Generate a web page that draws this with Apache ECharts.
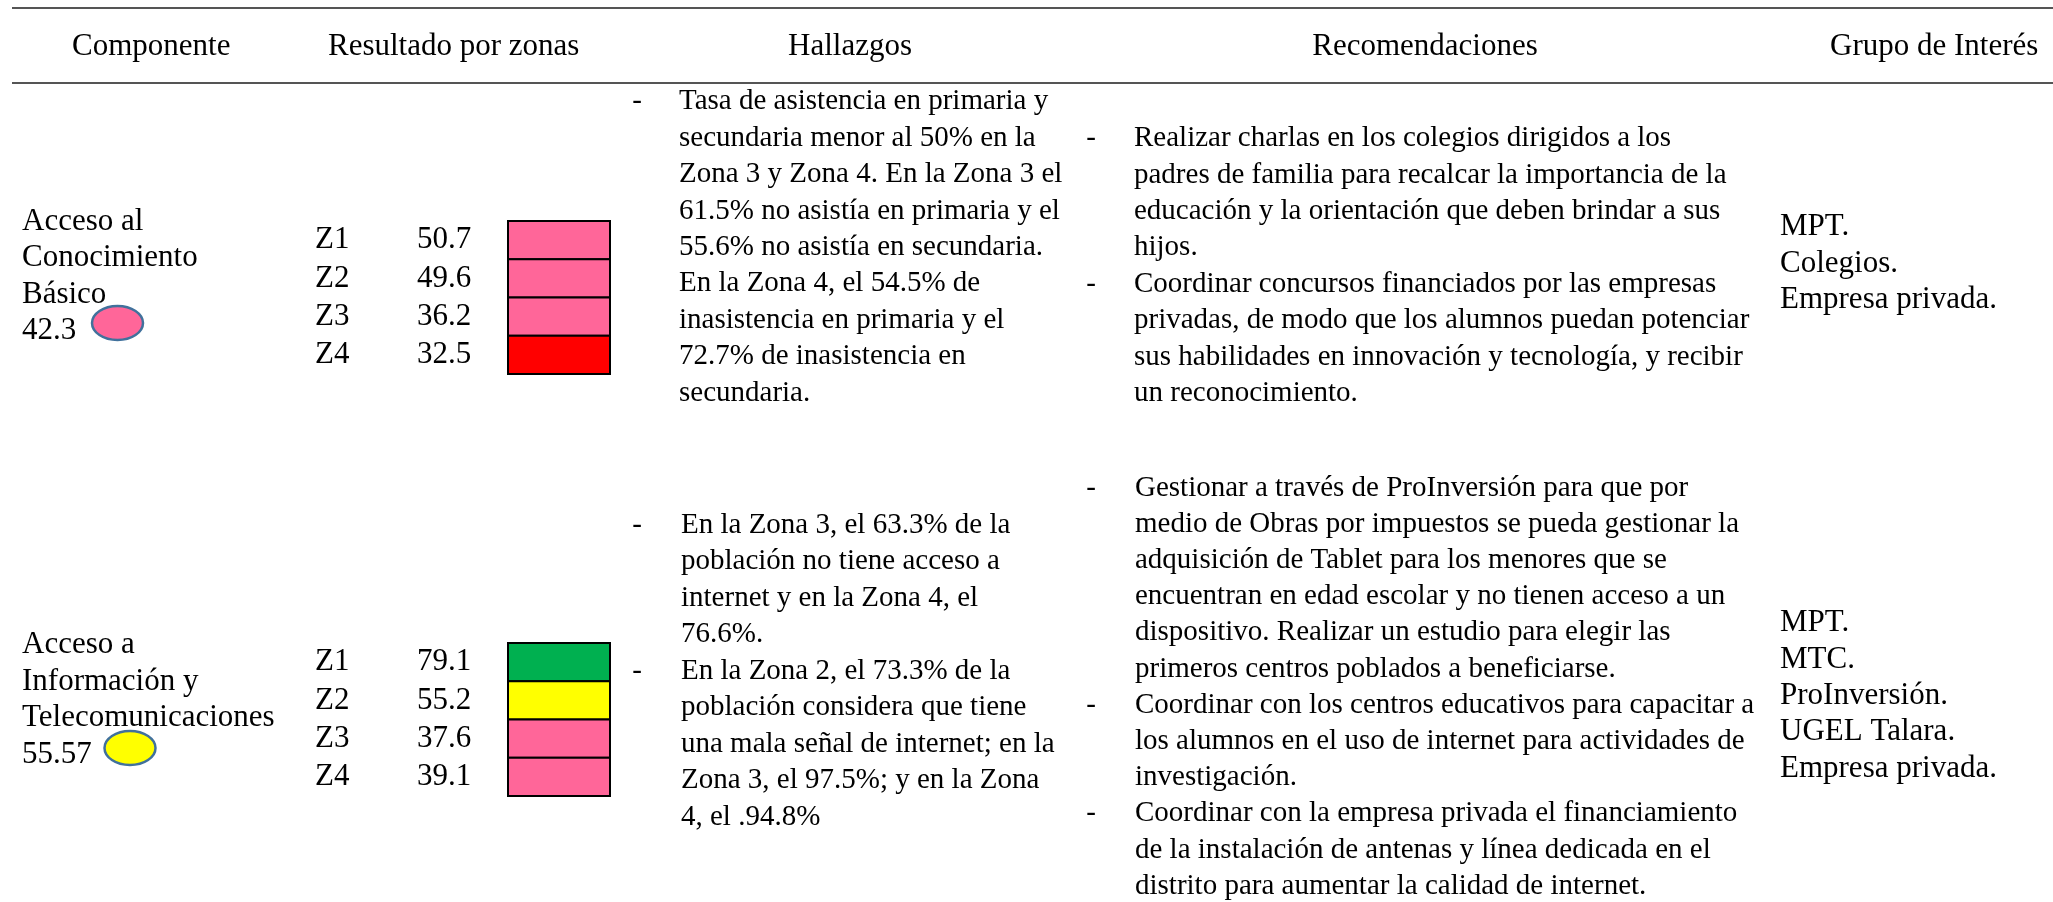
<!DOCTYPE html>
<html>
<head>
<meta charset="utf-8">
<script src="https://cdn.jsdelivr.net/npm/echarts@6/dist/echarts.min.js"></script>
<style>
  html, body { margin: 0; padding: 0; background: #ffffff; }
  #chart { width: 2053px; height: 902px; }
</style>
</head>
<body>
<div id="chart"></div>
<script>
// ---------------- DATA ----------------
const headers = ['Componente', 'Resultado por zonas', 'Hallazgos', 'Recomendaciones', 'Grupo de Interés'];

const componentNames = [
  ['Acceso al', 'Conocimiento', 'Básico'],
  ['Acceso a', 'Información y', 'Telecomunicaciones']
];
const componentScores = ['42.3', '55.57'];

const zones = ['Z1', 'Z2', 'Z3', 'Z4'];
const zoneValuesC1 = [50.7, 49.6, 36.2, 32.5];
const zoneValuesC2 = [79.1, 55.2, 37.6, 39.1];

const hallazgosC1 = [
  'Tasa de asistencia en primaria y',
  'secundaria menor al 50% en la',
  'Zona 3 y Zona 4. En la Zona 3 el',
  '61.5% no asistía en primaria y el',
  '55.6% no asistía en secundaria.',
  'En la Zona 4, el 54.5% de',
  'inasistencia en primaria y el',
  '72.7% de inasistencia en',
  'secundaria.'
];
const hallazgosC1Bullets = [0];

const hallazgosC2 = [
  'En la Zona 3, el 63.3% de la',
  'población no tiene acceso a',
  'internet y en la Zona 4, el',
  '76.6%.',
  'En la Zona 2, el 73.3% de la',
  'población considera que tiene',
  'una mala señal de internet; en la',
  'Zona 3, el 97.5%; y en la Zona',
  '4, el .94.8%'
];
const hallazgosC2Bullets = [0, 4];

const recomendacionesC1 = [
  'Realizar charlas en los colegios dirigidos a los',
  'padres de familia para recalcar la importancia de la',
  'educación y la orientación que deben brindar a sus',
  'hijos.',
  'Coordinar concursos financiados por las empresas',
  'privadas, de modo que los alumnos puedan potenciar',
  'sus habilidades en innovación y tecnología, y recibir',
  'un reconocimiento.'
];
const recomendacionesC1Bullets = [0, 4];

const recomendacionesC2 = [
  'Gestionar a través de ProInversión para que por',
  'medio de Obras por impuestos se pueda gestionar la',
  'adquisición de Tablet para los menores que se',
  'encuentran en edad escolar y no tienen acceso a un',
  'dispositivo. Realizar un estudio para elegir las',
  'primeros centros poblados a beneficiarse.',
  'Coordinar con los centros educativos para capacitar a',
  'los alumnos en el uso de internet para actividades de',
  'investigación.',
  'Coordinar con la empresa privada el financiamiento',
  'de la instalación de antenas y línea dedicada en el',
  'distrito para aumentar la calidad de internet.'
];
const recomendacionesC2Bullets = [0, 6, 9];

const gruposC1 = ['MPT.', 'Colegios.', 'Empresa privada.'];
const gruposC2 = ['MPT.', 'MTC.', 'ProInversión.', 'UGEL Talara.', 'Empresa privada.'];

// colour scale thresholds (semaphore)
const scaleBreaks = [35, 55, 75];
const scaleColors = ['#FF0000', '#FF6699', '#FFFF00', '#00B050'];

// ---------------- LAYOUT / STYLE ----------------
const FONT = '"Liberation Serif", "Times New Roman", serif';
const BIG = 31, BODY = 29;
function colorFor(v) {
  let i = 0;
  while (i < scaleBreaks.length && v >= scaleBreaks[i]) i++;
  return scaleColors[i];
}
function txt(text, x, y, size, align) {
  return {
    type: 'text', x: x, y: y, silent: true,
    style: {
      text: text, font: size + 'px ' + FONT, fill: '#000',
      align: align || 'left', verticalAlign: 'middle',
      textAlign: align || 'left', textVerticalAlign: 'middle'
    }
  };
}
function block(lines, x, firstCenter, lh, size) {
  return {
    type: 'text', x: x, y: firstCenter - lh / 2, silent: true,
    style: {
      text: lines.join('\n'), font: size + 'px ' + FONT, fill: '#000',
      lineHeight: lh, align: 'left', verticalAlign: 'top',
      textAlign: 'left', textVerticalAlign: 'top'
    }
  };
}
function bullets(idx, x, firstCenter, lh, size) {
  return idx.map(i => txt('-', x, firstCenter + i * lh, size, 'center'));
}

const graphics = [];
// rules
graphics.push({ type: 'line', silent: true, shape: { x1: 12, y1: 8, x2: 2053, y2: 8 }, style: { stroke: '#555', lineWidth: 2 } });
graphics.push({ type: 'line', silent: true, shape: { x1: 12, y1: 83, x2: 2053, y2: 83 }, style: { stroke: '#555', lineWidth: 2 } });
// headers
graphics.push(txt(headers[0], 72, 47, BIG, 'left'));
graphics.push(txt(headers[1], 328, 47, BIG, 'left'));
graphics.push(txt(headers[2], 850, 47, BIG, 'center'));
graphics.push(txt(headers[3], 1425, 47, BIG, 'center'));
graphics.push(txt(headers[4], 1830, 47, BIG, 'left'));

// component column
graphics.push(block(componentNames[0].concat([componentScores[0]]), 22, 222, 36.3, BIG));
graphics.push(block(componentNames[1].concat([componentScores[1]]), 22, 645, 36.5, BIG));
graphics.push({ type: 'ellipse', silent: true, shape: { cx: 117.5, cy: 323, rx: 25.5, ry: 17 },
  style: { fill: colorFor(parseFloat(componentScores[0])), stroke: '#41719C', lineWidth: 2.5 } });
graphics.push({ type: 'ellipse', silent: true, shape: { cx: 130, cy: 748, rx: 25.5, ry: 17 },
  style: { fill: colorFor(parseFloat(componentScores[1])), stroke: '#41719C', lineWidth: 2.5 } });

// hallazgos
graphics.push(block(hallazgosC1, 679, 101.7, 36.4, BODY));
graphics.push(...bullets(hallazgosC1Bullets, 637, 101.7, 36.4, BODY));
graphics.push(block(hallazgosC2, 681, 525, 36.5, BODY));
graphics.push(...bullets(hallazgosC2Bullets, 637, 525, 36.5, BODY));

// recomendaciones
graphics.push(block(recomendacionesC1, 1134, 138.5, 36.4, BODY));
graphics.push(...bullets(recomendacionesC1Bullets, 1091, 138.5, 36.4, BODY));
graphics.push(block(recomendacionesC2, 1135, 488, 36.2, BODY));
graphics.push(...bullets(recomendacionesC2Bullets, 1091, 488, 36.2, BODY));

// grupos
graphics.push(block(gruposC1, 1780, 227, 36.4, BIG));
graphics.push(block(gruposC2, 1780, 623.3, 36.3, BIG));

// zone cells via custom series on category axes
function renderCell(params, api) {
  const idx = api.value(1);
  const v = api.value(2);
  const c = api.coord([0, idx]);
  const s = api.size([1, 1]);
  const left = c[0] - s[0] / 2, top = c[1] - s[1] / 2;
  return {
    type: 'group',
    children: [
      { type: 'rect', shape: { x: left, y: top, width: s[0], height: s[1] },
        style: { fill: colorFor(v), stroke: '#000', lineWidth: 2 } },
      { type: 'text', x: left - 193, y: c[1],
        style: { text: zones[idx], font: BIG + 'px ' + FONT, fill: '#000', align: 'left', verticalAlign: 'middle', textAlign: 'left', textVerticalAlign: 'middle' } },
      { type: 'text', x: left - 91, y: c[1],
        style: { text: v.toFixed(1), font: BIG + 'px ' + FONT, fill: '#000', align: 'left', verticalAlign: 'middle', textAlign: 'left', textVerticalAlign: 'middle' } }
    ]
  };
}

const chart = echarts.init(document.getElementById('chart'), null, { renderer: 'canvas' });
chart.setOption({
  animation: false,
  backgroundColor: '#ffffff',
  grid: [
    { left: 508, top: 221, width: 102, height: 153 },
    { left: 508, top: 643, width: 102, height: 153 }
  ],
  xAxis: [
    { type: 'category', gridIndex: 0, data: ['valor'], show: false },
    { type: 'category', gridIndex: 1, data: ['valor'], show: false }
  ],
  yAxis: [
    { type: 'category', gridIndex: 0, data: zones, inverse: true, show: false },
    { type: 'category', gridIndex: 1, data: zones, inverse: true, show: false }
  ],
  series: [
    { type: 'custom', xAxisIndex: 0, yAxisIndex: 0, silent: true, renderItem: renderCell,
      data: zoneValuesC1.map((v, i) => [0, i, v]) },
    { type: 'custom', xAxisIndex: 1, yAxisIndex: 1, silent: true, renderItem: renderCell,
      data: zoneValuesC2.map((v, i) => [0, i, v]) }
  ],
  graphic: graphics
});
</script>
</body>
</html>
